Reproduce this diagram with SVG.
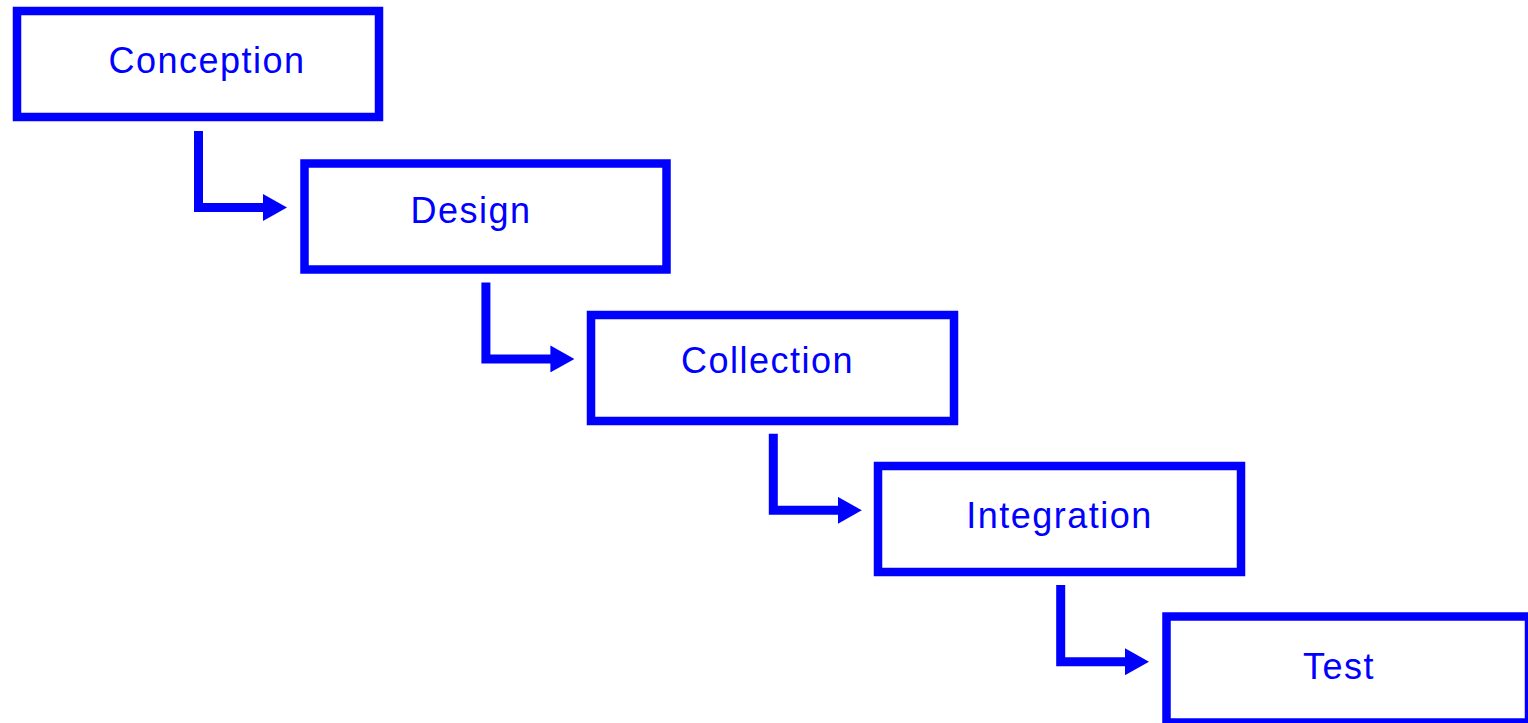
<svg xmlns="http://www.w3.org/2000/svg" width="1528" height="723" viewBox="0 0 1528 723">
<style>
.box{fill:#fff;stroke:#0000ff;stroke-width:8.5}
.lbl{font-family:"Liberation Sans",Arial,sans-serif;font-size:36px;fill:#0000ff;text-anchor:middle;letter-spacing:1.5px}
.con{fill:none;stroke:#0000ff;stroke-width:9;stroke-linejoin:miter;stroke-linecap:butt}
</style>
<defs>
<marker id="ah" viewBox="0 0 24 27" markerWidth="24" markerHeight="27" refX="1" refY="13.5" markerUnits="userSpaceOnUse" orient="auto">
<path d="M0,0 L24,13.5 L0,27 Z" fill="#0000ff"/>
</marker>
</defs>
<rect width="1528" height="723" fill="#fff"/>
<g id="connectors">
<path class="con" d="M198.5,131 V207.5 H264" marker-end="url(#ah)"/>
<path class="con" d="M485.9,282.4 V358.9 H551.4" marker-end="url(#ah)"/>
<path class="con" d="M773.3,433.8 V510.3 H838.8" marker-end="url(#ah)"/>
<path class="con" d="M1060.7,585 V661.7 H1126" marker-end="url(#ah)"/>
</g>
<g id="conception"><rect class="box" x="17" y="11" width="362" height="106"/><text class="lbl" x="207" y="72.5">Conception</text></g>
<g id="design"><rect class="box" x="304.5" y="163.5" width="362" height="106"/><text class="lbl" x="471" y="222.5">Design</text></g>
<g id="collection"><rect class="box" x="591" y="315" width="363" height="106"/><text class="lbl" x="767.5" y="372.5">Collection</text></g>
<g id="integration"><rect class="box" x="878" y="466" width="363" height="106"/><text class="lbl" x="1059.5" y="527.5">Integration</text></g>
<g id="test"><rect class="box" x="1166.5" y="616.5" width="362.5" height="106"/><text class="lbl" x="1339" y="679">Test</text></g>
</svg>
